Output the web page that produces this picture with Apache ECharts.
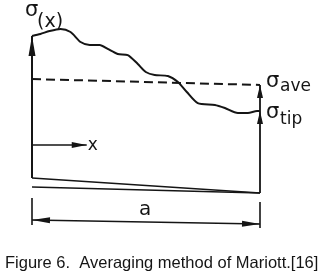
<!DOCTYPE html>
<html><head><meta charset="utf-8">
<script src="https://cdn.jsdelivr.net/npm/echarts@6/dist/echarts.min.js"></script>
<style>html,body{margin:0;padding:0;background:#fff}#c{width:330px;height:280px}</style>
</head><body><div id="c"></div>
<script>
// distance along crack (a = 10) and stress values
const crackLen = 10;
const curveX = [0,0.37,0.77,1.25,1.69,2.13,2.53,2.97,3.32,3.76,4.2,4.64,4.99,5.38,5.96,6.4,6.79,7.27,8.02,8.46,9.03,9.47,9.87,10];
const curveSigma = [9.75,9.875,10.06,10.19,10.0,9.375,9.19,9.19,8.94,8.625,8.56,8.0,7.5,7.31,7.25,6.875,6.25,5.56,5.44,5.25,4.94,4.94,5.06,5.06];
const aveSigma = [7.06, 6.69];          // dashed average line at x=0 and x=a
const wedgeUpper = [0.875, -0.06];      // crack face upper at x=0, x=a
const wedgeLower = [0.31, -0.06];       // crack face lower at x=0, x=a
const xArrowLen = 2.4;                  // length of "x" arrow
const xArrowSigma = 2.94;
const dimTickLeft = [-0.375, -2.06];
const dimTickRight = [-0.625, -2.25];
const dimLine = [-1.75, -2.0];
const caption = 'Figure 6.  Averaging method of Mariott.[16]';

const ink = '#151515';
const chart = echarts.init(document.getElementById('c'), null, {renderer:'canvas'});

function arrowSeries(segs, headLen, headHalf, both, width) {
  return {
    type: 'custom', coordinateSystem: 'cartesian2d', silent: true,
    data: segs,
    renderItem: function (params, api) {
      const p1 = api.coord([api.value(0), api.value(1)]);
      const p2 = api.coord([api.value(2), api.value(3)]);
      const children = [{
        type: 'line', shape: {x1:p1[0], y1:p1[1], x2:p2[0], y2:p2[1]},
        style: {stroke: ink, lineWidth: width}
      }];
      function head(tip, from) {
        const dx = tip[0]-from[0], dy = tip[1]-from[1];
        const L = Math.sqrt(dx*dx+dy*dy); const ux = dx/L, uy = dy/L;
        const bx = tip[0]-ux*headLen, by = tip[1]-uy*headLen;
        children.push({type:'polygon', shape:{points:[[tip[0],tip[1]],[bx-uy*headHalf,by+ux*headHalf],[bx+uy*headHalf,by-ux*headHalf]]}, style:{fill: ink}});
      }
      head(p2, p1);
      if (both) head(p1, p2);
      return {type:'group', children: children};
    }
  };
}

const lastSigma = curveSigma[curveSigma.length-1];
const option = {
  animation: false,
  backgroundColor: '#fff',
  grid: {left: 32, right: 70, top: 0, bottom: 0},
  xAxis: {type: 'value', min: 0, max: crackLen, show: false},
  yAxis: {type: 'value', min: -5.5, max: 12, show: false},
  series: [
    {type:'line', data: curveX.map((x,i)=>[x, curveSigma[i]]), smooth: 0.25, symbol:'none',
     lineStyle:{color: ink, width: 2}},
    {type:'line', data: [[0, aveSigma[0]], [crackLen, aveSigma[1]]], symbol:'none',
     lineStyle:{color: ink, width: 2, type: [9, 5]}},
    {type:'line', data: [[0, wedgeUpper[0]], [crackLen, wedgeUpper[1]]], symbol:'none', lineStyle:{color: ink, width: 1.6}},
    {type:'line', data: [[0, wedgeLower[0]], [crackLen, wedgeLower[1]]], symbol:'none', lineStyle:{color: ink, width: 1.6}},
    {type:'line', data: [[0, dimTickLeft[0]], [0, dimTickLeft[1]]], symbol:'none', lineStyle:{color: ink, width: 1.6}},
    {type:'line', data: [[crackLen, dimTickRight[0]], [crackLen, dimTickRight[1]]], symbol:'none', lineStyle:{color: ink, width: 1.6}},
    arrowSeries([[0, wedgeUpper[0], 0, curveSigma[0]]], 20, 3.5, false, 2),
    arrowSeries([[crackLen, wedgeUpper[1], crackLen, lastSigma], [crackLen, lastSigma, crackLen, aveSigma[1]]], 13, 3, false, 1.8),
    arrowSeries([[0, xArrowSigma, xArrowLen, xArrowSigma]], 15, 3, false, 1.6),
    arrowSeries([[0, dimLine[0], crackLen, dimLine[1]]], 18, 3, true, 1.4)
  ]
};
chart.setOption(option);

function px(x, y) { return chart.convertToPixel({gridIndex: 0}, [x, y]); }
const font = 'DejaVu Sans';
function txt(t, p, dx, dy, size, fam) {
  return {type:'text', x: p[0]+dx, y: p[1]+dy, silent: true,
    style:{text: t, fontSize: size, fontFamily: fam || font, fill: ink, textAlign:'left', align:'left', textVerticalAlign:'bottom', verticalAlign:'bottom'}};
}
const pTop = px(0, curveSigma[0]);
const pAve = px(crackLen, aveSigma[1]);
const pTip = px(crackLen, lastSigma);
const pX = px(xArrowLen, xArrowSigma);
const pA = px(crackLen/2, dimLine[0]);
chart.setOption({graphic: [
  txt('σ', pTop, -7, -15, 21),
  txt('(x)', pTop, 5, -4, 19),
  txt('σ', pAve, 6, 7, 21),
  txt('ave', pAve, 20, 10, 17),
  txt('σ', pTip, 6, 12, 21),
  txt('tip', pTip, 20, 17, 17),
  txt('x', pX, 1, 9, 17),
  txt('a', pA, -7, 0, 20),
  {type:'text', x: 5, y: 272, silent:true, style:{text: caption, fontSize: 16.5, fontFamily: 'Liberation Sans', fill: ink, textAlign:'left', align:'left', textVerticalAlign:'bottom', verticalAlign:'bottom'}}
]});
</script></body></html>
